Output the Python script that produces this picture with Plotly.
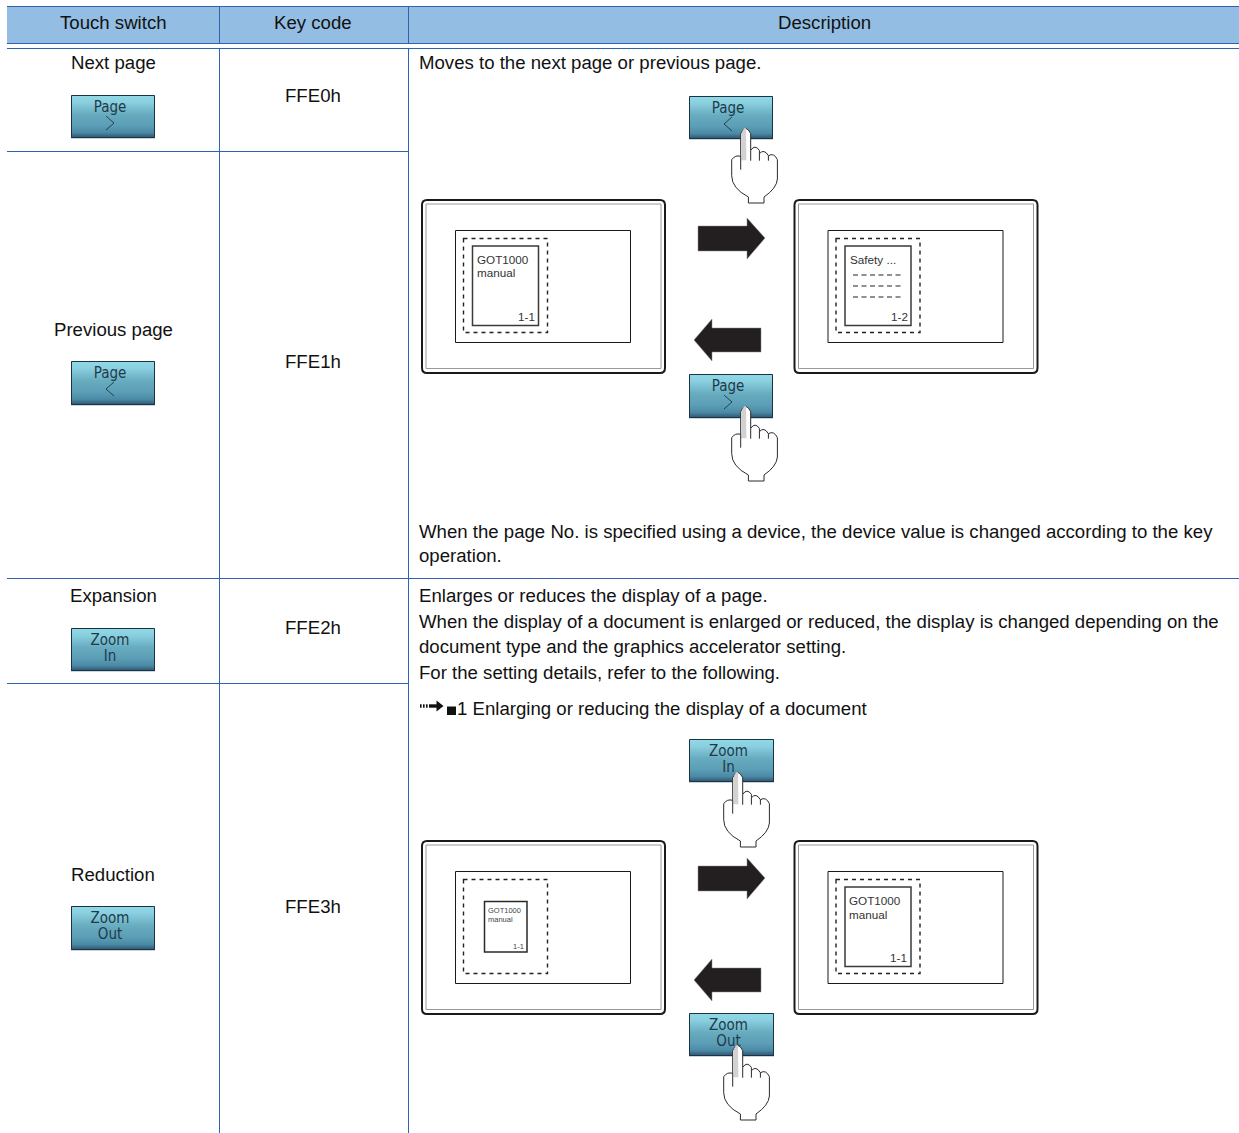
import plotly.graph_objects as go

W, H = 1239, 1133
LINE = "#2f62b0"
HEADER = "#93bde2"
INK = "#111111"
FONT = "Liberation Sans, Arial, sans-serif"
NARROW = "DejaVu Sans Condensed, Liberation Sans Narrow, sans-serif"

col_lines = [219.5, 408.5]
col_centers = [113, 313, 824]
headers = ["Touch switch", "Key code", "Description"]
switch_names = ["Next page", "Previous page", "Expansion", "Reduction"]
switch_y = [62, 329, 595, 874]
key_codes = ["FFE0h", "FFE1h", "FFE2h", "FFE3h"]
key_y = [95, 361, 627, 906]
desc_lines = [
    "Moves to the next page or previous page.",
    "When the page No. is specified using a device, the device value is changed according to the key",
    "operation.",
    "Enlarges or reduces the display of a page.",
    "When the display of a document is enlarged or reduced, the display is changed depending on the",
    "document type and the graphics accelerator setting.",
    "For the setting details, refer to the following.",
]
desc_y = [62, 531, 555, 595, 621, 646, 672]
link_text = "1 Enlarging or reducing the display of a document"

# button: left, top, right, bottom, line 1, line 2 (chevrons are drawn as icons)
left_buttons = [(71, 95, 155, 138, "Page", ">"), (71, 361, 155, 405, "Page", "<"),
                (71, 628, 155, 671, "Zoom", "In"), (71, 906, 155, 950, "Zoom", "Out")]
right_buttons = [(689, 96, 773, 139, "Page", "<"), (689, 374, 773, 418, "Page", ">"),
                 (689, 739, 774, 782, "Zoom", "In"), (689, 1013, 774, 1056, "Zoom", "Out")]
hand_tips = [(745.7, 129), (745.7, 407), (737.7, 773), (737.7, 1046)]
grad = [(0.0, (146, 218, 232)), (0.16, (138, 208, 224)), (0.45, (104, 172, 192)),
        (0.72, (92, 158, 182)), (0.88, (76, 138, 166)), (1.0, (46, 88, 116))]

fig = go.Figure()
shapes, notes = [], []


def rect(x0, y0, x1, y1, fill="rgba(0,0,0,0)", line=None, width=1, dash=None, layer="below"):
    shapes.append(dict(type="rect", x0=x0, y0=y0, x1=x1, y1=y1, fillcolor=fill, layer=layer,
                       line=dict(color=line or "rgba(0,0,0,0)", width=width if line else 0, dash=dash or "solid")))


def seg(x0, y0, x1, y1, color=LINE, width=1, dash=None, layer="below"):
    shapes.append(dict(type="line", x0=x0, y0=y0, x1=x1, y1=y1, layer=layer,
                       line=dict(color=color, width=width, dash=dash or "solid")))


def path(d, fill="rgba(0,0,0,0)", line=None, width=1, layer="below"):
    shapes.append(dict(type="path", path=d, fillcolor=fill, layer=layer,
                       line=dict(color=line or "rgba(0,0,0,0)", width=width if line else 0)))


def text(s, x, y, anchor="center", size=18.63, color=INK):
    notes.append(dict(text=s, x=x, y=y, xref="x", yref="y", showarrow=False, xanchor=anchor, yanchor="middle",
                      font=dict(family=FONT, size=size, color=color), borderpad=0, borderwidth=0))


def mix(t):
    for (a, ca), (b, cb) in zip(grad, grad[1:]):
        if t <= b:
            f = (t - a) / (b - a)
            return "rgb(%d,%d,%d)" % tuple(ca[i] + (cb[i] - ca[i]) * f for i in range(3))
    return "rgb(46,88,116)"


def button(b):
    x0, y0, x1, y1, _, second = b
    n = int(y1 - y0)
    for i in range(n):
        rect(x0, y0 + i, x1, y0 + i + 1.2, fill=mix(i / (n - 1)))
    rect(x0 + 0.5, y0 + 0.5, x1 - 0.5, y1 - 0.5, line="#1c3346", width=1)
    cx = (x0 + x1) / 2 - 3
    if second == ">":
        path("M%g,%g L%g,%g L%g,%g" % (cx - 4, y0 + 21, cx + 4, y0 + 28, cx - 4, y0 + 35), line="#24404f", width=1)
    if second == "<":
        path("M%g,%g L%g,%g L%g,%g" % (cx + 4, y0 + 21, cx - 4, y0 + 28, cx + 4, y0 + 35), line="#24404f", width=1)


def hand(tx, ty):
    def p(zx, zy):
        return "%.1f,%.1f" % (tx + (zx - 197) / 3, ty + (zy - 118) / 3)
    d = ("M" + p(182, 200) + " L" + p(182, 132) + " Q" + p(197, 100) + " " + p(212, 132) + " L" + p(212, 182)
         + " Q" + p(225, 163) + " " + p(238, 182) + " L" + p(238, 192) + " Q" + p(252, 176) + " " + p(265, 198)
         + " Q" + p(282, 188) + " " + p(292, 210) + " L" + p(292, 268) + " Q" + p(290, 296) + " " + p(252, 322)
         + " L" + p(252, 340) + " L" + p(205, 340) + " L" + p(205, 322) + " Q" + p(155, 296) + " " + p(155, 258)
         + " L" + p(155, 210) + " Q" + p(165, 195) + " " + p(182, 200) + " Z")
    path(d, fill="white", line="#2a2a2a", width=1, layer="above")
    path("M" + p(184, 212) + " L" + p(184, 132) + " Q" + p(191, 112) + " " + p(198, 116) + " L" + p(199, 212) + " Z",
         fill="#d2d2d2", layer="above")
    for a, b_, c, d2 in [(182, 200, 182, 240), (212, 182, 212, 213), (238, 192, 238, 213), (265, 198, 265, 213)]:
        path("M" + p(a, b_) + " L" + p(c, d2), line="#2a2a2a", width=1, layer="above")


def arrow_right(off):
    path("M698,%d L747,%d L747,%d L765,%d L747,%d L747,%d L698,%d Z" % (
        866 + off, 866 + off, 858 + off, 878.5 + off, 899 + off, 891 + off, 891 + off), fill="#231f20", line="#8a8a8a", width=0.5)


def arrow_left(off):
    path("M761,%d L712,%d L712,%d L694,%d L712,%d L712,%d L761,%d Z" % (
        968 + off, 968 + off, 959 + off, 980 + off, 1001 + off, 992 + off, 992 + off), fill="#231f20", line="#8a8a8a", width=0.5)


def monitor(dx, off):
    r = 5
    shapes.append(dict(type="path", layer="below", fillcolor="white", line=dict(color="#1a1a1a", width=2),
                       path="M%g,%g L%g,%g Q%g,%g %g,%g L%g,%g Q%g,%g %g,%g L%g,%g Q%g,%g %g,%g L%g,%g Q%g,%g %g,%g Z" % (
                           422 + r + dx, 200 + off, 665 - r + dx, 200 + off, 665 + dx, 200 + off, 665 + dx, 200 + r + off,
                           665 + dx, 373 - r + off, 665 + dx, 373 + off, 665 - r + dx, 373 + off, 422 + r + dx, 373 + off,
                           422 + dx, 373 + off, 422 + dx, 373 - r + off, 422 + dx, 200 + r + off, 422 + dx, 200 + off,
                           422 + r + dx, 200 + off)))
    rect(426 + dx, 204 + off, 661 + dx, 368.5 + off, line="#9a9a9a", width=1)
    rect(455.5 + dx, 230.5 + off, 630.5 + dx, 342.5 + off, line="#1a1a1a", width=1)
    rect(463.5 + dx, 238.5 + off, 547.5 + dx, 332.5 + off, line="#222222", width=1.4, dash="4px,4px")


# table
rect(7, 7, W, 43.5, fill=HEADER)
seg(7, 6.5, W, 6.5)
seg(7, 43.5, W, 43.5)
seg(7, 48.5, W, 48.5)
for x in col_lines:
    seg(x, 7, x, 43.5)
    seg(x, 48.5, x, H)
seg(7, 151.5, 408, 151.5)
seg(7, 578.5, W, 578.5)
seg(7, 683.5, 408, 683.5)

for b in left_buttons + right_buttons:
    button(b)

SMALL = 11.7
# first picture
monitor(0, 0)
rect(472.5, 246, 538.5, 325.5, line="#3a3a3a", width=1.5)
text("GOT1000", 477, 259, "left", SMALL, "#333333")
text("manual", 477, 272, "left", SMALL, "#333333")
text("1-1", 534.5, 316, "right", SMALL, "#333333")
monitor(372.5, 0)
rect(845, 246, 911, 325.5, line="#3a3a3a", width=1.5)
text("Safety ...", 850, 259, "left", SMALL, "#333333")
for y in [275, 286, 297]:
    seg(853, y, 903, y, color="#222222", width=1.2, dash="5px,3.5px")
text("1-2", 907.5, 316, "right", SMALL, "#333333")
arrow_right(-640)
arrow_left(-640)

# second picture
monitor(0, 641)
rect(484.5, 901.5, 527, 952, line="#2a2a2a", width=1.5)
text("GOT1000", 488, 910, "left", 7.5, "#444444")
text("manual", 488, 919, "left", 7.5, "#444444")
text("1-1", 524, 946, "right", 7.5, "#444444")
monitor(372.5, 641)
rect(845, 887, 911, 966.5, line="#3a3a3a", width=1.5)
text("GOT1000", 849, 900, "left", SMALL, "#333333")
text("manual", 849, 914, "left", SMALL, "#333333")
text("1-1", 907, 957, "right", SMALL, "#333333")
arrow_right(0)
arrow_left(0)

for t in hand_tips:
    hand(*t)

# cross-reference arrow
for x in [420, 423, 426]:
    seg(x, 706, x + 1.6, 706, color="#111111", width=3.4)
seg(429, 706, 439, 706, color="#111111", width=3.4)
path("M436.5,700.5 L443.5,706 L436.5,711.5 Z", fill="#111111")
rect(447, 706.5, 456, 715, fill="#111111")

for s, x in zip(headers, col_centers):
    text(s, x, 22)
for s, y in zip(switch_names, switch_y):
    text(s, 113, y)
for s, y in zip(key_codes, key_y):
    text(s, 313, y)
for s, y in zip(desc_lines, desc_y):
    text(s, 419, y, "left")
text(link_text, 457, 708, "left")

bx, by, bs = [], [], []
for b in left_buttons + right_buttons:
    cx = (b[0] + b[2]) / 2 - 3
    bx.append(cx)
    by.append(b[1] + 13)
    bs.append(b[4])
    if b[5] not in "<>":
        bx.append(cx)
        by.append(b[1] + 29)
        bs.append(b[5])
fig.add_trace(go.Scatter(x=bx, y=by, text=bs, mode="text", textposition="middle center", hoverinfo="skip",
                         textfont=dict(family=NARROW, size=15, color="#1f3a48"), showlegend=False, cliponaxis=False))

fig.update_layout(width=W, height=H, margin=dict(l=0, r=0, t=0, b=0), paper_bgcolor="white", plot_bgcolor="white",
                  showlegend=False, shapes=shapes, annotations=notes,
                  xaxis=dict(range=[0, W], visible=False, fixedrange=True),
                  yaxis=dict(range=[H, 0], visible=False, fixedrange=True))
fig.write_html("out.html", config=dict(displayModeBar=False),
               post_script="document.body.style.margin='0';document.documentElement.style.overflow='hidden';")
